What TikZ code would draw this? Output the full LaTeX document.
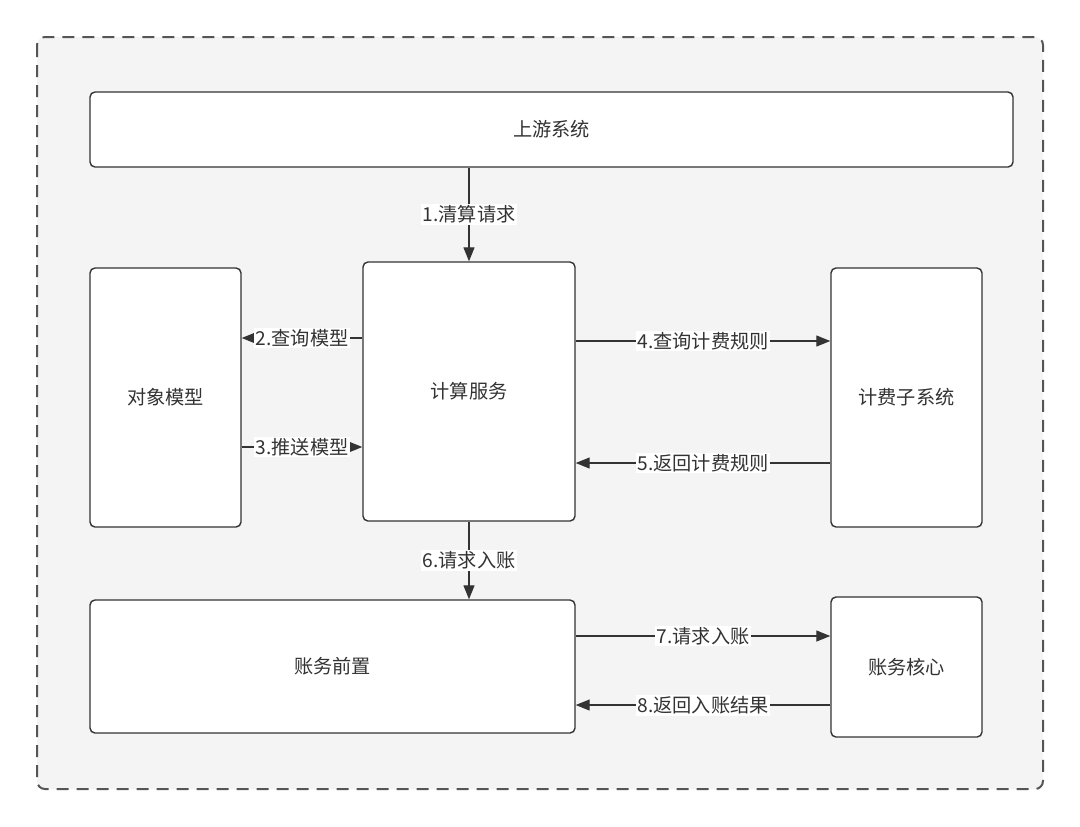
\documentclass[tikz,border=0pt]{standalone}
\usepackage{fontspec}
\setmainfont{Noto Sans CJK SC}
\usetikzlibrary{arrows.meta}
\definecolor{fond}{HTML}{F4F4F4}
\definecolor{trait}{HTML}{333333}
\definecolor{cadre}{HTML}{555555}

\begin{document}
\begin{tikzpicture}[x=0.5pt,y=-0.5pt,
  boite/.style={draw=trait, fill=white, rounded corners=2.5pt, line width=0.7pt,
    inner sep=0pt, text=trait, font=\fontsize{9.6}{11}\selectfont},
  fleche/.style={draw=trait, line width=0.6pt, -{Triangle[length=7pt,width=5.5pt]}},
  etiq/.style={fill=white, inner sep=0.8pt, text=trait, font=\fontsize{9.6}{11}\selectfont}]
\useasboundingbox (0,0) rectangle (1080,826);

% Cadre pointille du fond
\draw[cadre, fill=fond, line width=1pt, dash pattern=on 6pt off 4pt, rounded corners=4pt]
  (37,37) rectangle (1043,789);

% Les boites
\node[boite, minimum width=461.5pt, minimum height=37.5pt] (amont) at (551.5,129.5) {上游系统};
\node[boite, minimum width=75.5pt, minimum height=129.5pt] (objet) at (165.5,397.5) {对象模型};
\node[boite, minimum width=106pt, minimum height=129.5pt] (calcul) at (469,391.5) {计算服务};
\node[boite, minimum width=75.5pt, minimum height=129.5pt] (tarif) at (906.5,397.5) {计费子系统};
\node[boite, minimum width=242.5pt, minimum height=66.5pt] (prefix) at (332.5,666.5) {账务前置};
\node[boite, minimum width=75.5pt, minimum height=70pt] (noyau) at (906.5,667) {账务核心};

% Les fleches et leurs etiquettes
\draw[fleche] (amont.south -| calcul.north) -- node[etiq] {1.清算请求} (calcul.north);
\draw[fleche] (calcul.west |- 0,338) -- node[etiq] {2.查询模型} (objet.east |- 0,338);
\draw[fleche] (objet.east |- 0,447) -- node[etiq] {3.推送模型} (calcul.west |- 0,447);
\draw[fleche] (calcul.east |- 0,341) -- node[etiq] {4.查询计费规则} (tarif.west |- 0,341);
\draw[fleche] (tarif.west |- 0,463) -- node[etiq] {5.返回计费规则} (calcul.east |- 0,463);
\draw[fleche] (calcul.south) -- node[etiq] {6.请求入账} (calcul.south |- prefix.north);
\draw[fleche] (prefix.east |- 0,636) -- node[etiq] {7.请求入账} (noyau.west |- 0,636);
\draw[fleche] (noyau.west |- 0,705) -- node[etiq] {8.返回入账结果} (prefix.east |- 0,705);

\end{tikzpicture}
\end{document}
